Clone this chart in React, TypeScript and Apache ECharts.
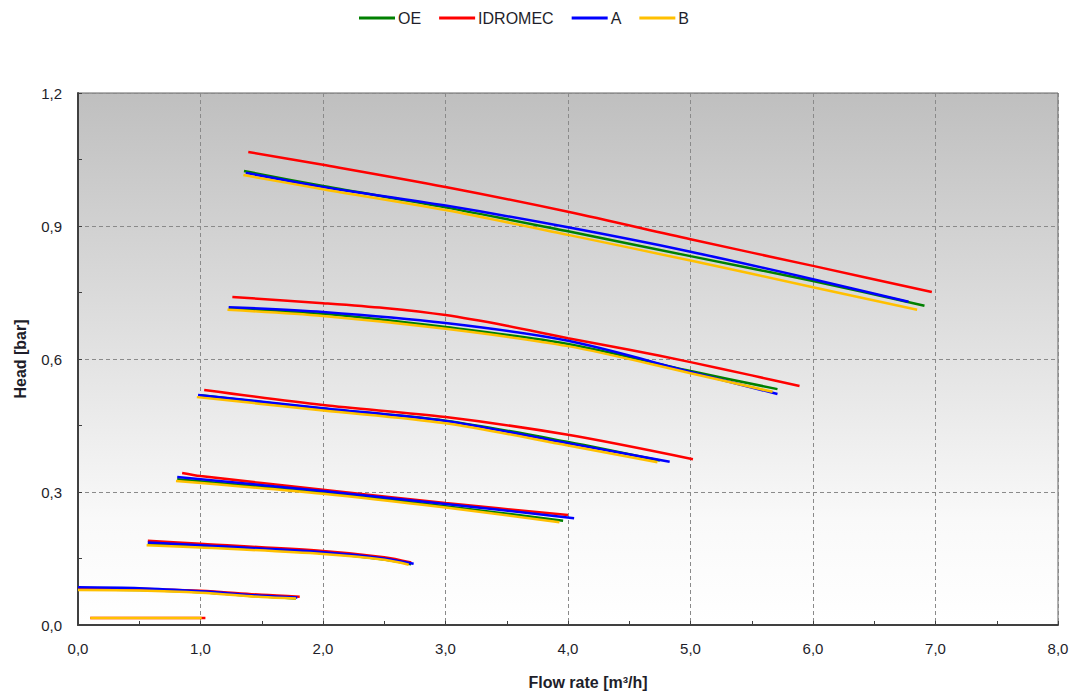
import React, { useEffect, useRef } from "react";
import * as echarts from "echarts";

const seriesNames = ["OE", "IDROMEC", "A", "B"];
const seriesColors = ["#008000", "#ff0000", "#0000ff", "#ffc000"];

const oeCurves: number[][][] = [
  [[1.355, 1.024], [2, 0.99], [3, 0.942], [4, 0.888], [5, 0.832], [6, 0.776], [6.91, 0.72]],
  [[1.23, 0.713], [2, 0.702], [3, 0.672], [4, 0.634], [5, 0.573], [5.71, 0.532]],
  [[1.0, 0.518], [2, 0.488], [3, 0.461], [4, 0.413], [4.75, 0.371]],
  [[0.81, 0.329], [2, 0.299], [3, 0.268], [3.96, 0.235]],
  [[0.57, 0.183], [1, 0.177], [2, 0.162], [2.5, 0.148], [2.72, 0.137]],
  [[0, 0.08], [0.5, 0.079], [1, 0.074], [1.5, 0.064], [1.78, 0.06]],
];

const idromecCurves: number[][][] = [
  [[1.39, 1.067], [2, 1.038], [3, 0.988], [4, 0.932], [5, 0.87], [6, 0.81], [6.97, 0.751]],
  [[1.26, 0.74], [2, 0.726], [2.5, 0.715], [3, 0.699], [3.5, 0.675], [4, 0.647], [4.5, 0.621], [5, 0.593], [5.5, 0.563], [5.89, 0.539]],
  [[1.03, 0.53], [2, 0.496], [3, 0.469], [4, 0.429], [5.02, 0.374]],
  [[0.85, 0.343], [1, 0.336], [2, 0.305], [3, 0.275], [4.0, 0.248]],
  [[0.57, 0.19], [1, 0.183], [2, 0.167], [2.5, 0.153], [2.72, 0.141]],
  [[0, 0.083], [0.5, 0.082], [1, 0.077], [1.5, 0.068], [1.81, 0.064]],
  [[0.1, 0.016], [1.04, 0.016]],
];

const aCurves: number[][][] = [
  [[1.37, 1.02], [2, 0.988], [3, 0.946], [4, 0.897], [5, 0.842], [6, 0.78], [6.78, 0.729]],
  [[1.23, 0.717], [2, 0.706], [3, 0.681], [4, 0.641], [5, 0.571], [5.71, 0.521]],
  [[0.98, 0.519], [2, 0.489], [3, 0.46], [4, 0.41], [4.83, 0.368]],
  [[0.81, 0.334], [2, 0.302], [3, 0.273], [4.05, 0.241]],
  [[0.57, 0.186], [1, 0.18], [2, 0.164], [2.5, 0.15], [2.74, 0.138]],
  [[0, 0.085], [0.5, 0.083], [1, 0.076], [1.5, 0.066], [1.79, 0.062]],
];

const bCurves: number[][][] = [
  [[1.35, 1.015], [2, 0.983], [3, 0.936], [4, 0.88], [5, 0.822], [6, 0.762], [6.85, 0.711]],
  [[1.22, 0.711], [2, 0.697], [3, 0.668], [4, 0.629], [5, 0.568], [5.67, 0.526]],
  [[0.97, 0.514], [2, 0.484], [3, 0.455], [4, 0.405], [4.73, 0.367]],
  [[0.8, 0.325], [2, 0.296], [3, 0.265], [3.93, 0.232]],
  [[0.56, 0.18], [1, 0.175], [2, 0.16], [2.5, 0.147], [2.7, 0.136]],
  [[0, 0.079], [0.5, 0.078], [1, 0.073], [1.5, 0.063], [1.78, 0.06]],
  [[0.1, 0.016], [1.01, 0.016]],
];

const allCurves = [oeCurves, idromecCurves, aCurves, bCurves];

const fmt = (v: number) => v.toFixed(1).replace(".", ",");

export default function App() {
  const ref = useRef<HTMLDivElement>(null);
  useEffect(() => {
    if (!ref.current) return;
    const chart = echarts.init(ref.current, null, { renderer: "svg" });
    const series: any[] = [];
    allCurves.forEach((curves, i) => {
      curves.forEach((c) => {
        series.push({
          name: seriesNames[i],
          type: "line",
          data: c,
          smooth: 0.3,
          showSymbol: false,
          symbol: "none",
          lineStyle: { color: seriesColors[i], width: 2.5 },
          itemStyle: { color: seriesColors[i] },
        });
      });
    });
    const labelStyle = { color: "#1e1e2a", fontFamily: "Liberation Sans", fontSize: 15 };
    chart.setOption({
      animation: false,
      legend: {
        data: seriesNames,
        top: 5,
        left: 354,
        icon: "rect",
        itemWidth: 36,
        itemHeight: 3,
        itemGap: 18,
        textStyle: { fontFamily: "Liberation Sans", fontSize: 16, color: "#1e1e2a", padding: [0, 0, 0, -2] },
      },
      grid: {
        left: 78,
        right: 16,
        top: 93,
        bottom: 70,
        show: true,
        borderColor: "#666",
        borderWidth: 1,
        backgroundColor: new echarts.graphic.LinearGradient(0, 0, 0, 1, [
          { offset: 0, color: "#bfbfbf" },
          { offset: 0.5, color: "#e3e3e3" },
          { offset: 0.8, color: "#f9f9f9" },
          { offset: 1, color: "#ffffff" },
        ]),
      },
      xAxis: {
        type: "value",
        min: 0,
        max: 8,
        interval: 1,
        name: "Flow rate [m³/h]",
        nameLocation: "middle",
        nameGap: 49,
        nameTextStyle: { fontFamily: "Liberation Sans", fontSize: 16, fontWeight: "bold", color: "#1e1e2a", padding: [0, 0, 0, 40] },
        axisLine: { lineStyle: { color: "#404040", width: 2 } },
        axisTick: { show: true, inside: true, length: 4, lineStyle: { color: "#404040" } },
        minorTick: { show: true, splitNumber: 2, length: 4, lineStyle: { color: "#404040" } },
        axisLabel: { ...labelStyle, margin: 16, formatter: fmt },
        splitLine: { show: true, lineStyle: { color: "#8a8a8a", type: [4, 3], width: 1 } },
      },
      yAxis: {
        type: "value",
        min: 0,
        max: 1.2,
        interval: 0.3,
        name: "Head [bar]",
        nameLocation: "middle",
        nameGap: 50,
        nameTextStyle: { fontFamily: "Liberation Sans", fontSize: 16, fontWeight: "bold", color: "#1e1e2a" },
        axisLine: { show: true, lineStyle: { color: "#404040", width: 2 } },
        axisTick: { show: true, inside: true, length: 4, lineStyle: { color: "#404040" } },
        minorTick: { show: true, splitNumber: 2, length: 4, lineStyle: { color: "#404040" } },
        axisLabel: { ...labelStyle, margin: 16, formatter: fmt },
        splitLine: { show: true, lineStyle: { color: "#8a8a8a", type: [4, 3], width: 1 } },
      },
      series,
    });
    return () => chart.dispose();
  }, []);
  return (
    <div
      ref={ref}
      style={{ position: "fixed", left: 0, top: 0, width: 1074, height: 695, background: "#fff" }}
    />
  );
}
